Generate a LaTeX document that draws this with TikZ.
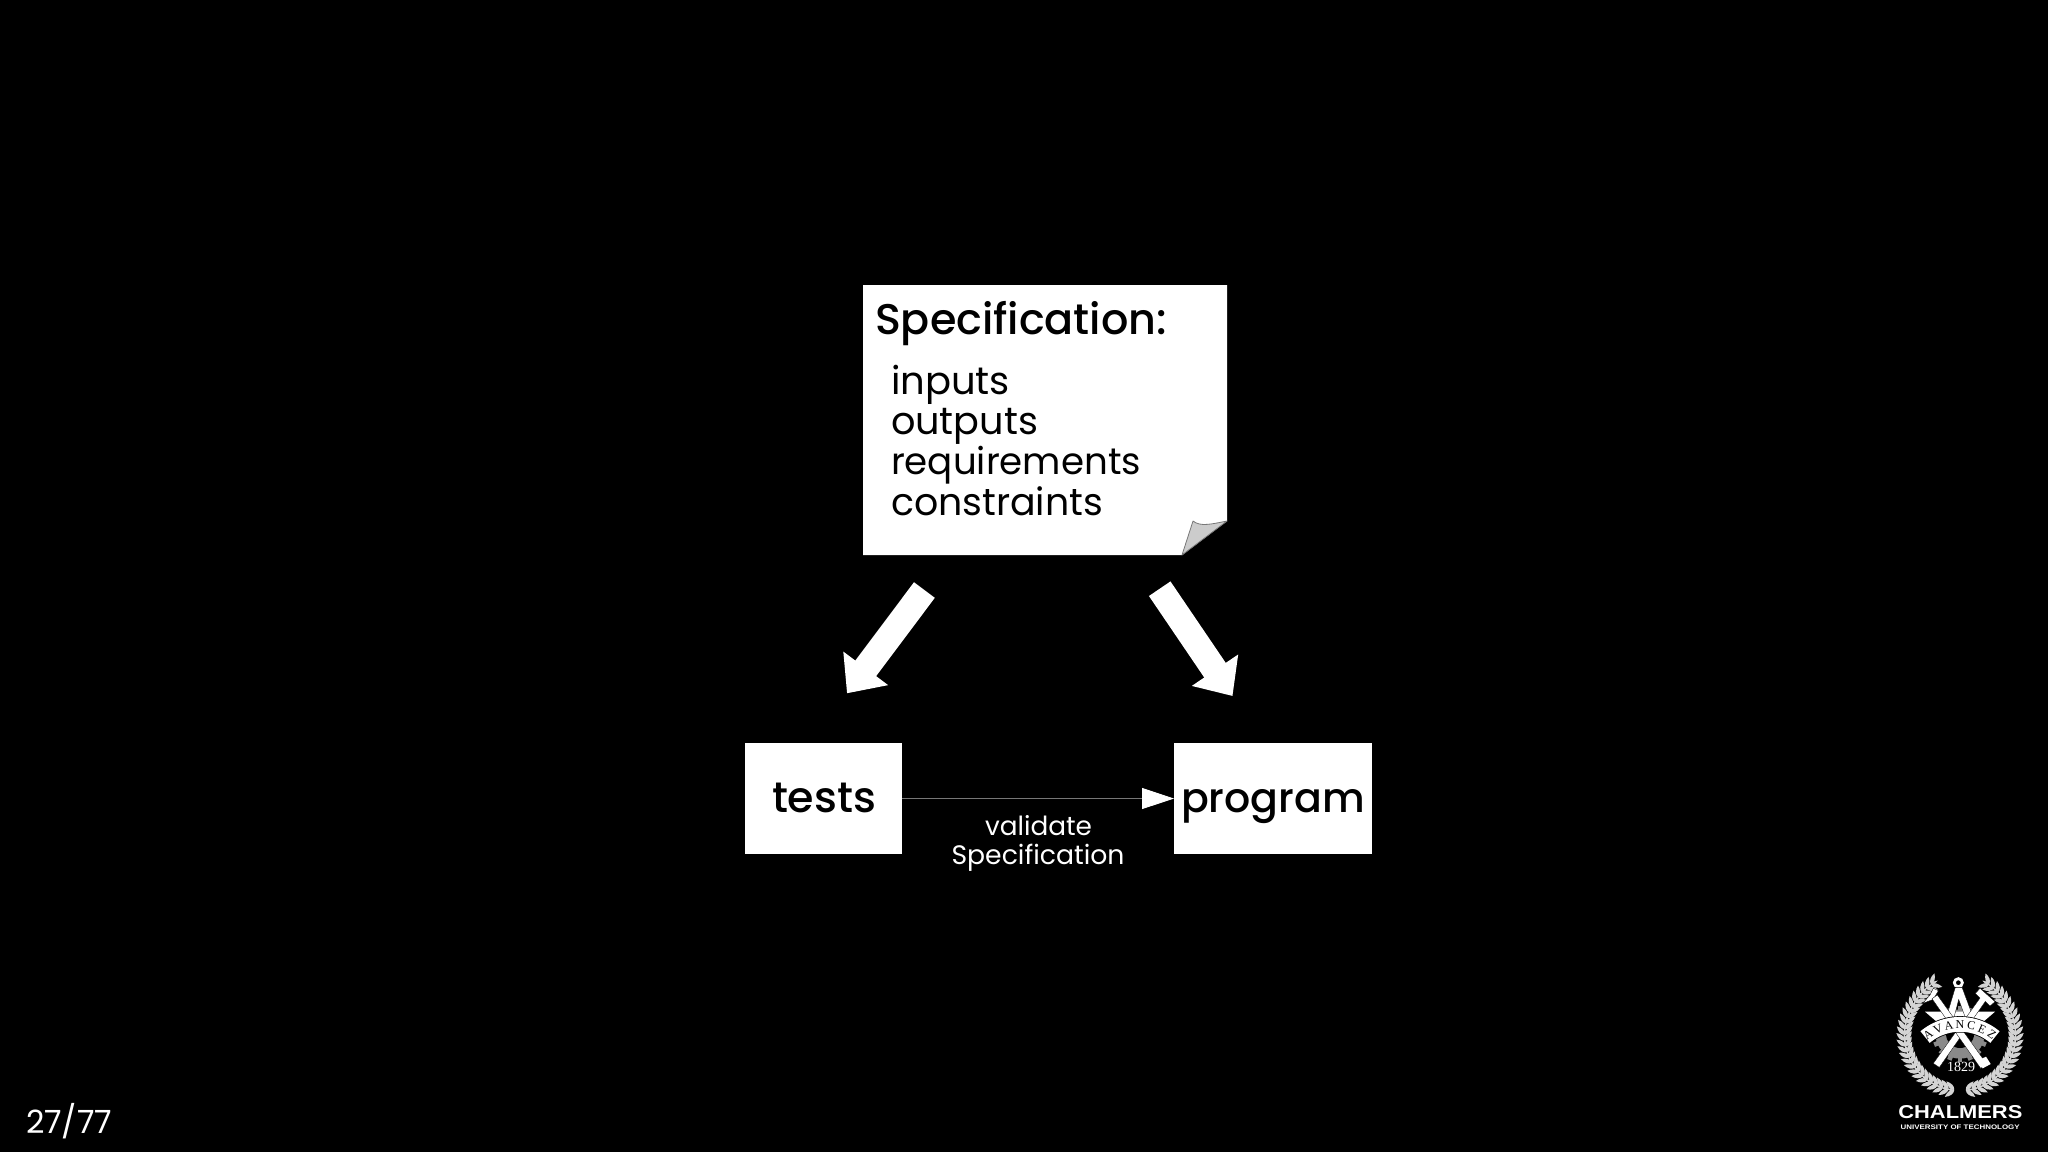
\documentclass[tikz,border=0pt]{standalone}
\usepackage{graphicx}
\usepackage{fontspec}
\setmainfont{Poppins}[BoldFont={Poppins Medium}]
\newfontfamily\logosans{Liberation Sans}
\newfontfamily\logoserif{Liberation Serif}
\usetikzlibrary{arrows.meta}
\definecolor{foldgray}{HTML}{CCCCCC}
\definecolor{linegray}{HTML}{777777}
\definecolor{wreath}{HTML}{D4D4D4}
\definecolor{geargray}{HTML}{8A8A8A}
\tikzset{
  x=0.5pt,y=-0.5pt,
  boxnode/.style={fill=white,draw=none,inner sep=0pt,text=black},
  plain/.style={inner sep=0pt,outer sep=0pt,anchor=base west,text=white},
  ink/.style={inner sep=0pt,outer sep=0pt,anchor=base west,text=black},
  bigarrow/.style={white,line width=13pt,-{Triangle[length=15.6pt,width=27pt]}},
  thinarrow/.style={linegray,line width=0.5pt,-{Triangle[length=16pt,width=10.5pt,color=white,fill=white]}},
  leaf/.style={fill=wreath,draw=none},
  tool/.style={fill=white,draw=black,line width=0.15pt},
}
\begin{document}
\begin{tikzpicture}
\useasboundingbox (0,0) rectangle (2048,1152);
\fill[black] (0,0) rectangle (2048,1152);

% specification note
\node[minimum width=182pt,minimum height=135pt,inner sep=0pt,outer sep=0pt] (note) at (1045,420) {};
\coordinate (foldA) at (1182,555);
\coordinate (foldB) at (1227,521);
\coordinate (foldC) at (1193,521);
\fill[white] (note.north west) -- (note.north east) -- (foldB) -- (foldA) -- (note.south west) -- cycle;
\draw[fill=foldgray,draw=linegray,line width=0.4pt,line join=round]
  (foldA) -- (foldC) .. controls (1200,527) and (1212,524) .. (foldB) -- cycle;
\node[ink] (spec) at (875,334) {\resizebox{146pt}{!}{\bfseries Specification:}};
\node[ink] (l1) at (891,394) {\resizebox{59.5pt}{!}{inputs}};
\node[ink] (l2) at (891,434) {\resizebox{73.5pt}{!}{outputs}};
\node[ink] (l3) at (891,474) {\resizebox{125pt}{!}{requirements}};
\node[ink] (l4) at (891,515) {\resizebox{106pt}{!}{constraints}};

% big arrows
\coordinate (la) at (924.4,590);
\coordinate (lb) at (847,693.3);
\coordinate (ra) at (1159.7,588.7);
\coordinate (rb) at (1232.5,696);
\draw[bigarrow] (la) -- (lb);
\draw[bigarrow] (ra) -- (rb);

% boxes
\node[boxnode,minimum width=78.7pt,minimum height=55.5pt,outer sep=0pt] (tests) at (823.3,798.5) {};
\node[boxnode,minimum width=99pt,minimum height=55.5pt,outer sep=0pt] (program) at (1273,798.5) {};
\node[ink] (teststext) at (772,812) {\resizebox{52pt}{!}{\bfseries tests}};
\node[ink] (progtext) at (1181,812) {\resizebox{92pt}{!}{\bfseries program}};
\draw[thinarrow] (tests.east) -- (program.west);
\node[plain] (val1) at (985,835) {\resizebox{53.5pt}{!}{validate}};
\node[plain] (val2) at (951.5,864) {\resizebox{86.5pt}{!}{Specification}};

% page number
\node[plain] (page) at (26,1133) {\resizebox{43pt}{!}{27/77}};

% logo, drawn in zoom-crop units
\begin{scope}[shift={(1870,960)},scale=1/3]
  % wreath
  \foreach \a in {264,258,...,117}{
    \pgfmathsetmacro{\R}{\a<150 ? 166+(150-\a)*0.3 : 166}
    \pgfmathsetmacro{\px}{270+\R*cos(\a)}
    \pgfmathsetmacro{\py}{225-\R*sin(\a)}
    \pgfmathsetmacro{\tn}{\a-90}
    \foreach \off in {-42,42}{
      \fill[leaf,shift={(\px,\py)},rotate=\tn+\off] (0,0) .. controls (8,-9) and (22,-8) .. (35,0) .. controls (22,8) and (8,9) .. (0,0) -- cycle;
    }
    \fill[leaf,shift={(\px,\py)},rotate=\tn] (0,0) .. controls (6,-5) and (16,-5) .. (24,0) .. controls (16,5) and (6,5) .. (0,0) -- cycle;
  }
  \foreach \a in {-84,-78,...,63}{
    \pgfmathsetmacro{\R}{\a>30 ? 166+(\a-30)*0.3 : 166}
    \pgfmathsetmacro{\px}{270+\R*cos(\a)}
    \pgfmathsetmacro{\py}{225-\R*sin(\a)}
    \pgfmathsetmacro{\tn}{\a+90}
    \foreach \off in {-42,42}{
      \fill[leaf,shift={(\px,\py)},rotate=\tn+\off] (0,0) .. controls (8,-9) and (22,-8) .. (35,0) .. controls (22,8) and (8,9) .. (0,0) -- cycle;
    }
    \fill[leaf,shift={(\px,\py)},rotate=\tn] (0,0) .. controls (6,-5) and (16,-5) .. (24,0) .. controls (16,5) and (6,5) .. (0,0) -- cycle;
  }
  % gear
  \fill[geargray] (270,222) circle[radius=74];
  \foreach \t in {0,22.5,...,337.5}{
    \fill[geargray,shift={(270,222)},rotate=\t] (70,-7) rectangle (84,7);
  }
  \fill[black] (270,222) circle[radius=42];
  % star bar
  \fill[white] (165,155) -- (375,155) -- (340,185) -- (200,185) -- cycle;
  % compass
  \draw[white,line width=1.4pt] (265,68) circle[radius=12];
  \fill[tool] (256,82) -- (276,82) -- (318,195) -- (294,195) -- (266,118) -- (246,195) -- (222,195) -- cycle;
  % hammers
  \fill[tool] (330,85) -- (375,125) -- (360,138) -- (346,124) -- (208,322) -- (190,310) -- (330,114) -- (316,100) -- cycle;
  \fill[tool] (205,92) -- (190,118) -- (158,130) -- (180,105) -- (190,85) -- cycle;
  \fill[tool] (202,105) -- (350,312) -- (332,325) -- (186,116) -- cycle;
  \fill[white] (348,290) -- (362,312) -- (338,325) -- (322,302) -- cycle;
  % banner
  \draw[black,line width=8.2pt] plot[domain=130:50,samples=30] ({270+163*cos(\x)},{356-163*sin(\x)});
  \draw[white,line width=7.4pt] plot[domain=130:50,samples=30] ({270+163*cos(\x)},{356-163*sin(\x)});
  \foreach \ch [count=\i] in {A,V,A,N,C,E,Z}{
    \pgfmathsetmacro{\ang}{90+(4-\i)*12}
    \pgfmathsetmacro{\px}{270+163*cos(\ang)}
    \pgfmathsetmacro{\py}{356-163*sin(\ang)}
    \node[inner sep=0pt,text=black,rotate=\ang-90,font=\logoserif\fontsize{6}{6}\selectfont] (ltr\i) at (\px,\py) {\ch};
  }
  \fill[black] (228,308) rectangle (318,336);
  \node[inner sep=0pt,text=white,font=\logoserif\fontsize{7}{7}\selectfont] (year) at (273,322) {1829};
  \node[plain] (chalmers) at (85,475) {\resizebox{62pt}{6.5pt}{\logosans\bfseries CHALMERS}};
  \node[plain] (uni) at (92,508) {\resizebox{59.5pt}{2.3pt}{\logosans\bfseries UNIVERSITY OF TECHNOLOGY}};
\end{scope}
\end{tikzpicture}
\end{document}
